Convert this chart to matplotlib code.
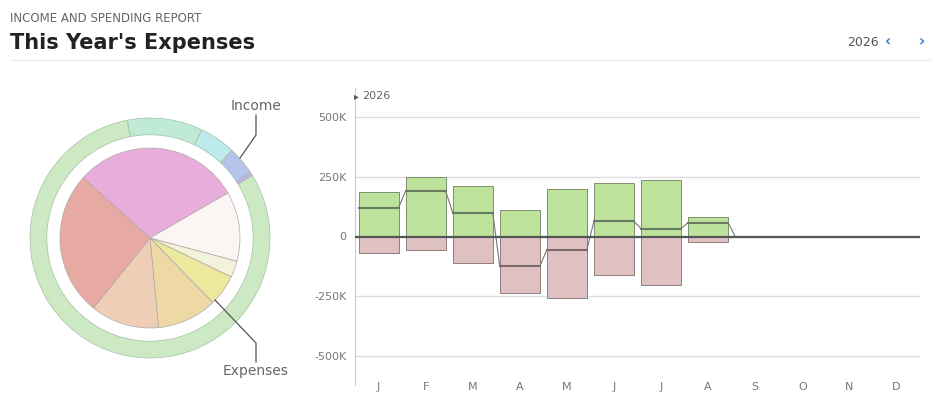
import matplotlib
matplotlib.use("Agg")
import matplotlib.pyplot as plt
import numpy as np

months = ["J","F","M","A","M","J","J","A","S","O","N","D"]
income = [187, 250, 212, 112, 200, 225, 237, 83]
expenses = [-67, -58, -112, -237, -258, -162, -204, -25]
net = [120, 190, 100, -125, -55, 63, 33, 58]
ring_vals = [36.5, 17.5, 13.5, 2, 290]
ring_colors = ["#bfead5", "#bdeaea", "#b5c4ec", "#c0b0e6", "#cde9c3"]
pie_vals = [108, 45, 10.6, 20.2, 38.8, 44.4, 93]
pie_colors = ["#e8addb", "#fbf6f4", "#f3f2da", "#ece99c", "#eed8a3", "#eecfb6", "#e6aaa3"]
yticks = [-500, -250, 0, 250, 500]
ylabels = ["-500K", "-250K", "0", "250K", "500K"]

W, H = 932, 408
fig = plt.figure(figsize=(W/100, H/100), dpi=100)
fig.patch.set_facecolor("white")
def px(x0, y0, w, h):
    return [x0/W, 1-(y0+h)/H, w/W, h/H]

fig.text(10/W, 1-19/H, "INCOME AND SPENDING REPORT", fontsize=8.5, color="#666", va="center")
fig.text(10/W, 1-43/H, "This Year's Expenses", fontsize=15, fontweight="bold", color="#222", va="center")
fig.text(847/W, 1-42/H, "2026", fontsize=9, color="#555", va="center")
fig.text(885/W, 1-42/H, "‹", fontsize=11, color="#3b82d6", va="center", fontweight="bold")
fig.text(919/W, 1-42/H, "›", fontsize=11, color="#3b82d6", va="center", fontweight="bold")
fig.add_artist(plt.Line2D([10/W, 930/W], [1-60/H, 1-60/H], color="#eeeeee", lw=1))

# pie
pa = fig.add_axes(px(30, 118, 240, 240))
pa.set_xlim(-1, 1); pa.set_ylim(-1, 1); pa.set_aspect("equal"); pa.axis("off")
pa.pie(ring_vals, colors=ring_colors, startangle=101, counterclock=False, radius=1.0,
       wedgeprops=dict(width=0.14, edgecolor="#a5bfa5", linewidth=0.5))
pa.pie(pie_vals, colors=pie_colors, startangle=138, counterclock=False, radius=0.75,
       wedgeprops=dict(edgecolor="#b0a8a8", linewidth=0.5))
pa.set_xlim(-1, 1); pa.set_ylim(-1, 1)

fig.text(256/W, 1-106/H, "Income", fontsize=10, color="#666", ha="center", va="center")
fig.text(256/W, 1-371/H, "Expenses", fontsize=10, color="#666", ha="center", va="center")
fig.add_artist(plt.Line2D(np.array([256, 256, 240])/W, 1-np.array([115, 135, 158])/H, color="#555", lw=0.9))
fig.add_artist(plt.Line2D(np.array([215, 256, 256])/W, 1-np.array([300, 343, 362])/H, color="#555", lw=0.9))

# bars
ax = fig.add_axes(px(355, 88, 565, 297))
ax.set_xlim(-0.5, 11.5)
x = np.arange(len(income))
bw = 0.85
ax.bar(x, income, width=bw, color="#bde29b", edgecolor="#7f8f70", lw=0.7, zorder=2)
ax.bar(x, expenses, width=bw, color="#e0c1c2", edgecolor="#8f7f7f", lw=0.7, zorder=2)
lx, ly = [], []
for i, v in enumerate(net):
    lx += [i-bw/2, i+bw/2]; ly += [v, v]
lx += [len(net)-bw/2]; ly += [0]
ax.plot(lx, ly, color="#777", lw=0.8, zorder=3)
for i, v in enumerate(net):
    ax.plot([i-bw/2, i+bw/2], [v, v], color="#6a7a60" if v > 0 else "#7a6a6a", lw=1.5, zorder=3)
ax.axhline(0, color="#555", lw=1.6, zorder=4)
ax.set_yticks(yticks); ax.set_yticklabels(ylabels)
ax.set_xticks(range(12)); ax.set_xticklabels(months)
ax.grid(axis="y", color="#dddddd", lw=1, zorder=0)
for s in ["top", "right", "bottom"]:
    ax.spines[s].set_visible(False)
ax.spines["left"].set_color("#cccccc")
ax.tick_params(axis="both", length=0, colors="#777", labelsize=8, pad=6)
ax.tick_params(axis="x", pad=-2)
ax.set_ylim(-620, 620)
fig.text(354/W, 1-96/H, "▸", fontsize=7, color="#555", va="center")
fig.text(362/W, 1-96/H, "2026", fontsize=8, color="#666", va="center")

fig.savefig("out.png", dpi=100)
